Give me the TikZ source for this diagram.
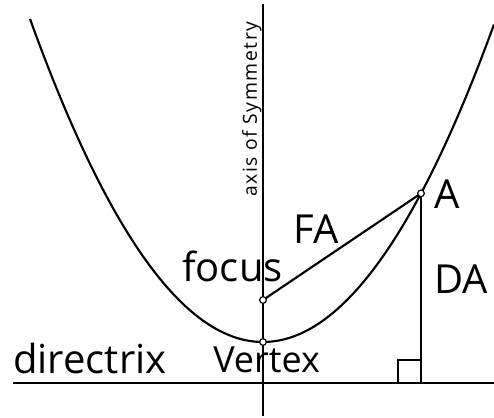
\documentclass[tikz,border=0pt]{standalone}
\usepackage{fontspec}
\setmainfont{Open Sans}
\newfontfamily\spacedfont[LetterSpace=8]{Open Sans}
\begin{document}
\begin{tikzpicture}[x=0.75pt,y=-0.75pt,
  curve/.style={line width=1.6pt, black},
  thinline/.style={line width=0.8pt, black},
  pointdot/.style={circle, draw, line width=0.9pt, fill=white, inner sep=0pt, minimum size=5pt},
  lbl/.style={inner sep=0pt, anchor=base west, font=\fontsize{30}{34}\selectfont},
  smalllbl/.style={inner sep=0pt, anchor=base west, font=\spacedfont\fontsize{14.5}{16}\selectfont}]
\useasboundingbox (0,0) rectangle (494,418);
% axis of symmetry
\coordinate (axtop) at (263,4);
\coordinate (axbot) at (263,416);
\draw[thinline] (axtop) -- (axbot);
% directrix
\coordinate (dl) at (13,383);
\coordinate (dr) at (494,383);
\draw[curve] (dl) -- (dr);
% parabola
\draw[curve] plot[variable=\t, domain=-2.33:2.31, samples=120, smooth] ({263+100*\t}, {342-59.52*\t*\t});
% points
\coordinate (V) at (263,342);
\coordinate (F) at (263,300);
\coordinate (A) at (421,193.4);
\coordinate (D) at (421,383);
\draw[curve] (F) -- (A);
\draw[curve] (A) -- (D);
% right angle mark
\coordinate (sq) at (398,360);
\draw[curve] (sq) rectangle (D);
\node[pointdot] (vdot) at (V) {};
\node[pointdot] (fdot) at (F) {};
\node[pointdot] (adot) at (A) {};
% labels
\node[lbl] (ldir) at (13,373) {directrix};
\node[lbl, font=\fontsize{27}{30}\selectfont] (lver) at (213,372) {Vertex};
\node[lbl] (lfoc) at (182,281) {focus};
\node[lbl] (lfa) at (293,243) {FA};
\node[lbl] (la) at (434,208) {A};
\node[lbl] (lda) at (434,293) {DA};
\node[smalllbl, rotate=90] (lax) at (257,197) {axis of Symmetry};
\end{tikzpicture}
\end{document}
